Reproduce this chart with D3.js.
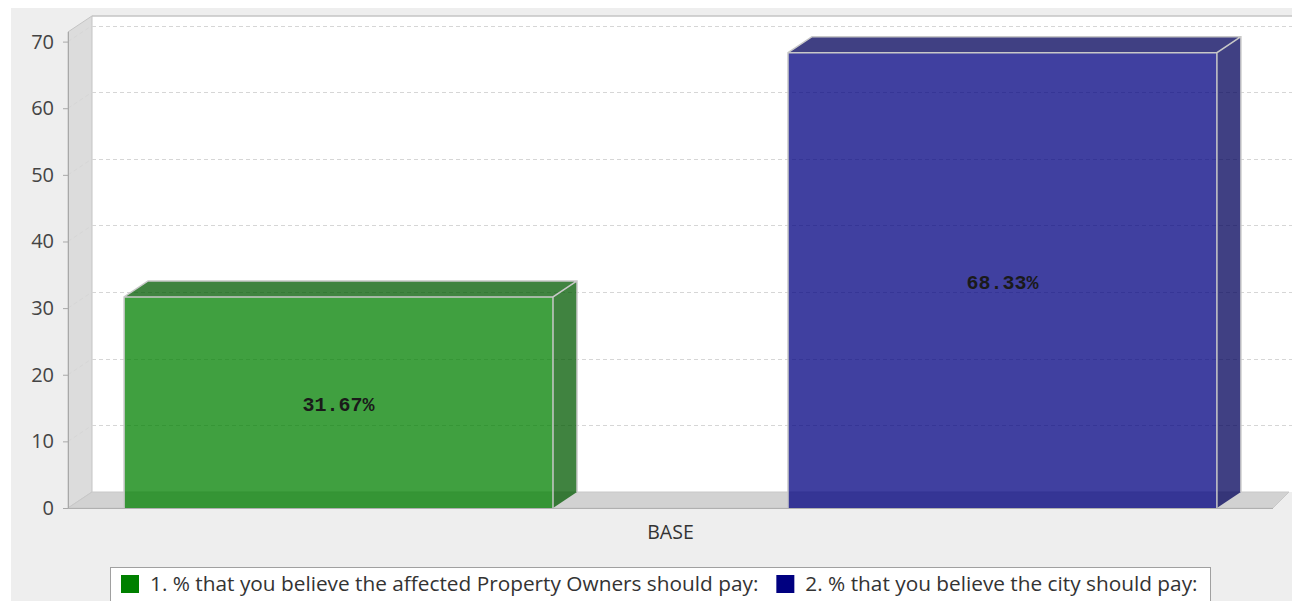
<!DOCTYPE html>
<html>
<head>
<meta charset="utf-8">
<title>BASE</title>
<script src="https://d3js.org/d3.v7.min.js"></script>
<style type="text/css">
    body { margin: 0; background: #ffffff; }
    svg { display: block; }
</style>
</head>
<body>
<div id="chart"></div>
<script type="text/javascript">
    // data
    var categories = ["BASE"];
    var seriesNames = [
        "1. % that you believe the affected Property Owners should pay:",
        "2. % that you believe the city should pay:"
    ];
    var seriesValues = [31.67, 68.33];
    var seriesColors = ["#008000", "#000080"];
    var yTicks = [0, 10, 20, 30, 40, 50, 60, 70];

    var width = 1292, height = 601;
    var depthX = 24, depthY = 16;   // 3d offset
    var plotLeft = 68, plotRight = 1273, plotBottom = 508;
    var yUpper = 71.45;             // axis upper bound (with margin)
    var alpha = 0.75;

    var svg = d3.select('#chart').append('svg')
        .attr('width', width)
        .attr('height', height);

    // chart background
    svg.append('rect')
        .attr('x', 11).attr('y', 8)
        .attr('width', width - 11).attr('height', height - 8)
        .attr('fill', '#eeeeee');

    //Set Y Scale
    var y = d3.scaleLinear()
        .domain([0, 70])
        .range([plotBottom, 41.6]);

    //Set X Scales
    var x0 = d3.scaleBand()
        .domain(categories)
        .range([plotLeft, plotRight]);
    var x1 = d3.scaleBand()
        .domain(seriesNames)
        .range([0, x0.bandwidth()])
        .paddingInner(0.354)
        .paddingOuter(0.0845);

    var plotTop = y(yUpper);

    // back wall
    svg.append('rect')
        .attr('x', plotLeft + depthX).attr('y', plotTop - depthY)
        .attr('width', width - plotLeft)
        .attr('height', plotBottom - plotTop)
        .attr('fill', '#ffffff');
    svg.append('line')
        .attr('x1', plotLeft + depthX).attr('x2', width)
        .attr('y1', plotTop - depthY).attr('y2', plotTop - depthY)
        .attr('stroke', '#c4c4c4').attr('stroke-width', 1.5);

    // left wall
    svg.append('polygon')
        .attr('points', [
            [plotLeft, plotTop], [plotLeft + depthX, plotTop - depthY],
            [plotLeft + depthX, plotBottom - depthY], [plotLeft, plotBottom]
        ].join(' '))
        .attr('fill', '#dcdcdc')
        .attr('stroke', '#c4c4c4');

    // floor
    svg.append('polygon')
        .attr('points', [
            [plotLeft, plotBottom], [plotLeft + depthX, plotBottom - depthY],
            [plotRight + 16, plotBottom - depthY], [plotRight, plotBottom]
        ].join(' '))
        .attr('fill', '#d2d2d2')
        .attr('stroke', '#c8c8c8');

    // gridlines
    var grid = svg.append('g')
        .attr('stroke', '#d6d6d6')
        .attr('stroke-dasharray', '4,3');
    grid.selectAll('.gh')
        .data(yTicks.filter(function(d){ return d > 0; }))
        .enter().append('line')
            .attr('x1', plotLeft + depthX).attr('x2', width)
            .attr('y1', function(d){ return Math.round(y(d) - depthY) + 0.5; })
            .attr('y2', function(d){ return Math.round(y(d) - depthY) + 0.5; });
    grid.selectAll('.gd')
        .data(yTicks.filter(function(d){ return d > 0; }))
        .enter().append('line')
            .attr('x1', plotLeft).attr('x2', plotLeft + depthX)
            .attr('y1', function(d){ return y(d); })
            .attr('y2', function(d){ return y(d) - depthY; });

    // bars
    var bars = svg.append('g').selectAll('g')
        .data(seriesValues)
        .enter().append('g');

    bars.each(function(d, i){
        var g = d3.select(this);
        var bx = x0(categories[0]) + x1(seriesNames[i]);
        var bw = x1.bandwidth();
        var by = y(d);
        var c = d3.color(seriesColors[i]);
        var dark = c.darker(1);
        // front face
        g.append('rect')
            .attr('x', bx).attr('y', by)
            .attr('width', bw).attr('height', plotBottom - by)
            .attr('fill', c).attr('fill-opacity', alpha);
        // top face
        g.append('polygon')
            .attr('points', [[bx, by], [bx + depthX, by - depthY],
                [bx + bw + depthX, by - depthY], [bx + bw, by]].join(' '))
            .attr('fill', dark).attr('fill-opacity', alpha);
        // side face
        g.append('polygon')
            .attr('points', [[bx + bw, by], [bx + bw + depthX, by - depthY],
                [bx + bw + depthX, plotBottom - depthY], [bx + bw, plotBottom]].join(' '))
            .attr('fill', dark).attr('fill-opacity', alpha);
        // outlines
        g.append('path')
            .attr('d', 'M' + bx + ',' + plotBottom + 'V' + by + 'L' + (bx + depthX) + ',' + (by - depthY) +
                'H' + (bx + bw + depthX) + 'V' + (plotBottom - depthY) +
                'M' + (bx + bw + depthX) + ',' + (by - depthY) + 'L' + (bx + bw) + ',' + by + 'H' + bx +
                'M' + (bx + bw) + ',' + by + 'V' + plotBottom)
            .attr('fill', 'none')
            .attr('stroke', '#c8c8c8').attr('stroke-width', 1.5);
        // value label
        g.append('text')
            .attr('x', bx + bw / 2)
            .attr('y', (by + plotBottom) / 2 + 9)
            .attr('text-anchor', 'middle')
            .style('font-family', '"Liberation Mono", monospace')
            .style('font-weight', 'bold')
            .style('font-size', '20px')
            .attr('fill', '#1a1a1a')
            .text(d.toFixed(2) + '%');
    });

    // front floor edge
    svg.append('line')
        .attr('x1', plotLeft).attr('x2', plotRight)
        .attr('y1', plotBottom + 0.5).attr('y2', plotBottom + 0.5)
        .attr('stroke', '#b0b0b0');

    // y axis
    var yAxis = svg.append('g')
        .attr('transform', 'translate(' + plotLeft + ',0)')
        .call(d3.axisLeft(y).tickValues(yTicks).tickSize(5).tickPadding(9).tickSizeOuter(0));
    yAxis.select('.domain').attr('stroke', '#a8a8a8')
        .attr('d', 'M0.5,' + plotTop + 'V' + plotBottom);
    yAxis.selectAll('.tick line').attr('stroke', '#a8a8a8');
    yAxis.selectAll('.tick text')
        .style('font-family', '"Open Sans", sans-serif')
        .style('font-size', '20px')
        .attr('fill', '#444444');

    // category label
    svg.selectAll('.cat')
        .data(categories)
        .enter().append('text')
            .attr('x', function(d){ return x0(d) + x0.bandwidth() / 2; })
            .attr('y', 539)
            .attr('text-anchor', 'middle')
            .style('font-family', '"Open Sans", sans-serif')
            .style('font-size', '19.5px')
            .attr('fill', '#333333')
            .text(function(d){ return d; });

    // legend
    var legend = svg.append('g');
    legend.append('rect')
        .attr('x', 110.5).attr('y', 567.5)
        .attr('width', 1100).attr('height', 40)
        .attr('fill', '#ffffff')
        .attr('stroke', '#a0a0a0');
    var lx = 121;
    seriesNames.forEach(function(name, i){
        legend.append('rect')
            .attr('x', lx).attr('y', 575)
            .attr('width', 18).attr('height', 18)
            .attr('fill', seriesColors[i]);
        var t = legend.append('text')
            .attr('x', lx + 29).attr('y', 591)
            .style('font-family', '"Open Sans", sans-serif')
            .style('font-size', '20.8px')
            .attr('fill', '#333333')
            .text(name);
        lx += 29 + t.node().getComputedTextLength() + 18;
    });
</script>
</body>
</html>
